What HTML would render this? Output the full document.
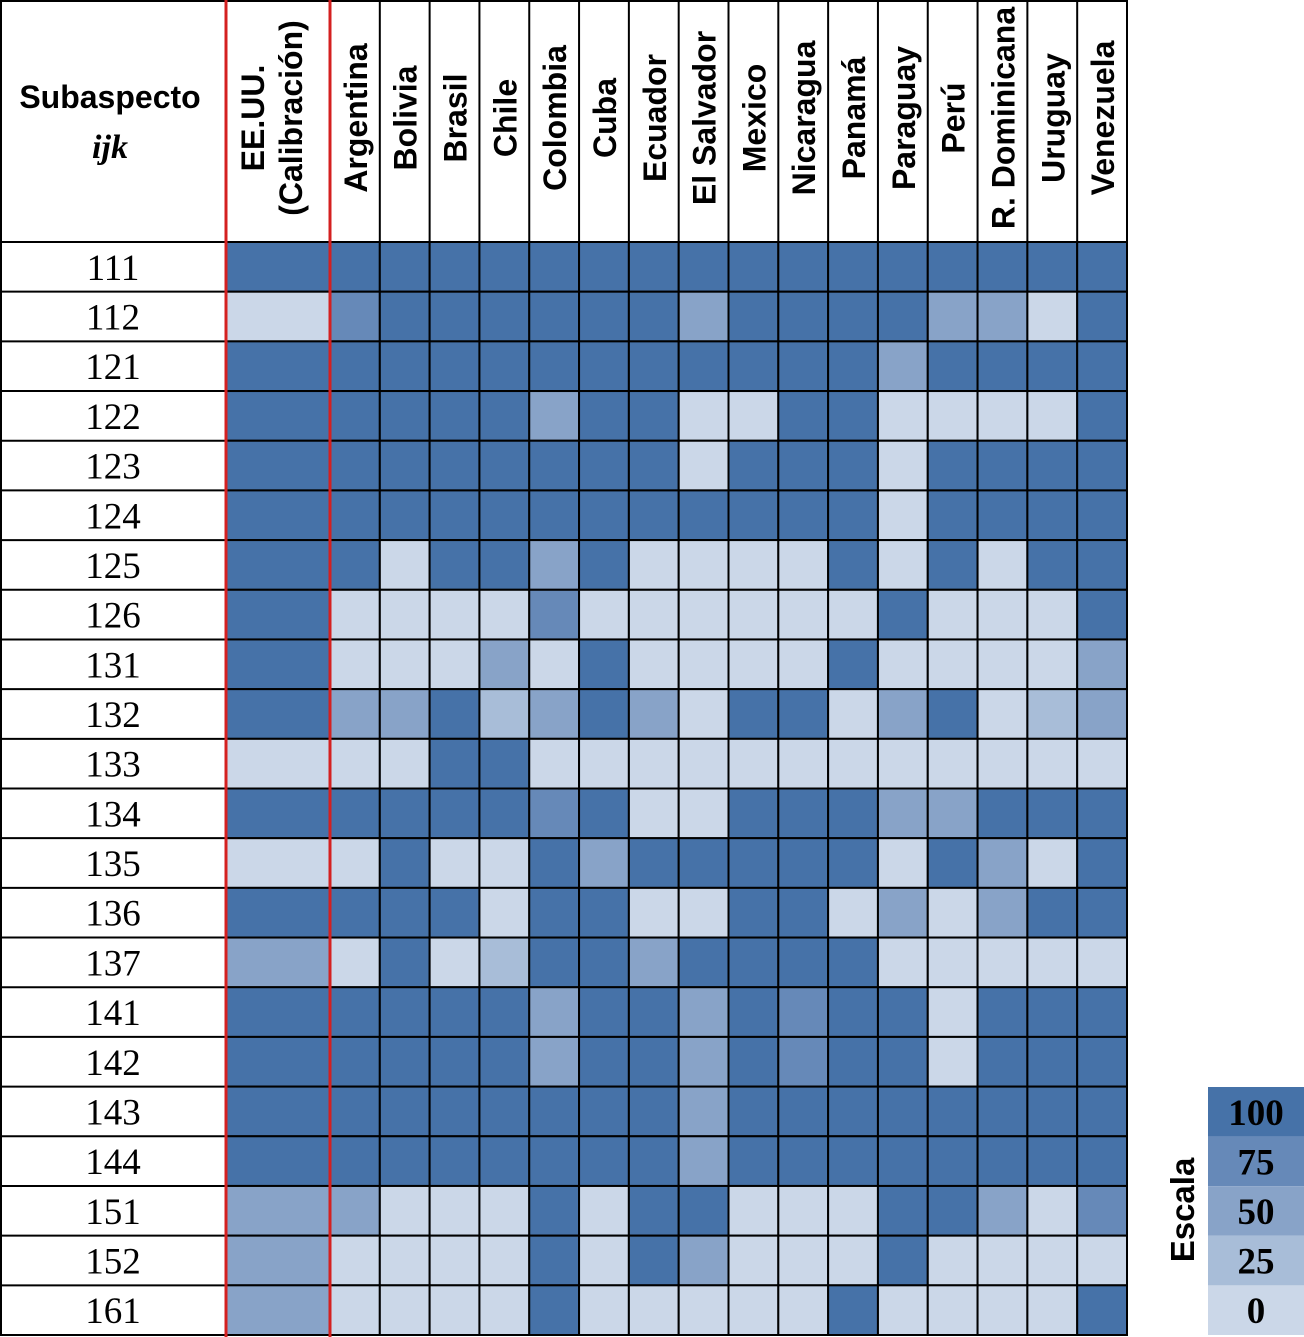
<!DOCTYPE html>
<html><head><meta charset="utf-8">
<style>
html,body{margin:0;padding:0;background:#fff;}
svg{display:block;}
</style></head>
<body>
<svg id="chart" width="1304" height="1337" xmlns="http://www.w3.org/2000/svg"></svg>
<script>
const countries = ["EE.UU.|(Calibración)","Argentina","Bolivia","Brasil","Chile","Colombia","Cuba","Ecuador","El Salvador","Mexico","Nicaragua","Panamá","Paraguay","Perú","R. Dominicana","Uruguay","Venezuela"];
const subaspects = ["111","112","121","122","123","124","125","126","131","132","133","134","135","136","137","141","142","143","144","151","152","161"];
const values = [
[100,100,100,100,100,100,100,100,100,100,100,100,100,100,100,100,100],
[0,75,100,100,100,100,100,100,50,100,100,100,100,50,50,0,100],
[100,100,100,100,100,100,100,100,100,100,100,100,50,100,100,100,100],
[100,100,100,100,100,50,100,100,0,0,100,100,0,0,0,0,100],
[100,100,100,100,100,100,100,100,0,100,100,100,0,100,100,100,100],
[100,100,100,100,100,100,100,100,100,100,100,100,0,100,100,100,100],
[100,100,0,100,100,50,100,0,0,0,0,100,0,100,0,100,100],
[100,0,0,0,0,75,0,0,0,0,0,0,100,0,0,0,100],
[100,0,0,0,50,0,100,0,0,0,0,100,0,0,0,0,50],
[100,50,50,100,25,50,100,50,0,100,100,0,50,100,0,25,50],
[0,0,0,100,100,0,0,0,0,0,0,0,0,0,0,0,0],
[100,100,100,100,100,75,100,0,0,100,100,100,50,50,100,100,100],
[0,0,100,0,0,100,50,100,100,100,100,100,0,100,50,0,100],
[100,100,100,100,0,100,100,0,0,100,100,0,50,0,50,100,100],
[50,0,100,0,25,100,100,50,100,100,100,100,0,0,0,0,0],
[100,100,100,100,100,50,100,100,50,100,75,100,100,0,100,100,100],
[100,100,100,100,100,50,100,100,50,100,75,100,100,0,100,100,100],
[100,100,100,100,100,100,100,100,50,100,100,100,100,100,100,100,100],
[100,100,100,100,100,100,100,100,50,100,100,100,100,100,100,100,100],
[50,50,0,0,0,100,0,100,100,0,0,0,100,100,50,0,75],
[50,0,0,0,0,100,0,100,50,0,0,0,100,0,0,0,0],
[50,0,0,0,0,100,0,0,0,0,0,100,0,0,0,0,100]
];
const scaleLevels = [100,75,50,25,0];

const NS="http://www.w3.org/2000/svg";
const svg=document.getElementById('chart');
function colorFor(v){
  if(v>=100) return "#4672a8";
  if(v>=75) return "#6689b8";
  if(v>=50) return "#88a3c8";
  if(v>=25) return "#a8bdd8";
  return "#cbd7e8";
}
const top0=242, rowH=(1335-242)/subaspects.length;
function yRow(i){return top0+i*rowH;}
function xCol(j){return j===0?226:330+(j-1)*(1127-330)/16;}
function wCol(j){return j===0?104:(1127-330)/16;}
function mk(tag,attrs){const e=document.createElementNS(NS,tag);for(const k in attrs)e.setAttribute(k,attrs[k]);svg.appendChild(e);return e;}

values.forEach((row,i)=>{
  row.forEach((v,j)=>{
    const r=mk('rect',{x:xCol(j),y:yRow(i),width:wCol(j),height:rowH,fill:colorFor(v),stroke:'#000','stroke-width':2});
    
    
  });
  const t=mk('text',{x:113,y:yRow(i)+rowH/2+13,'text-anchor':'middle','font-family':'"Liberation Serif",serif','font-size':37});
  t.textContent=subaspects[i];
  
  
  const l=mk('line',{x1:0,x2:226,y1:yRow(i),y2:yRow(i),stroke:'#000','stroke-width':2});
  
  
});
const hb=mk('rect',{x:1,y:1,width:1126,height:1334,fill:'none',stroke:'#000','stroke-width':2});


for(let j=2;j<=countries.length;j++){
  const x=j<countries.length?xCol(j):1127;
  const l=mk('line',{x1:x,x2:x,y1:0,y2:242,stroke:'#000','stroke-width':2});
  
  
}
countries.forEach((c,j)=>{
  const cx=xCol(j)+wCol(j)/2;
  const parts=c.split('|');
  parts.forEach((p,k)=>{
    const dx=parts.length>1?(k===0?-14:24):12;
    const t=mk('text',{transform:`translate(${cx+dx},118) rotate(-90)`,'text-anchor':'middle','font-family':'"Liberation Sans",sans-serif','font-weight':'bold','font-size':32});
    t.textContent=p;
    
    
  });
});
const h1=mk('text',{x:110,y:108,'text-anchor':'middle','font-family':'"Liberation Sans",sans-serif','font-weight':'bold','font-size':32});
h1.textContent='Subaspecto';


const h2=mk('text',{x:110,y:158,'text-anchor':'middle','font-family':'"Liberation Serif",serif','font-weight':'bold','font-style':'italic','font-size':34});
h2.textContent='ijk';


mk('line',{x1:0,x2:1127,y1:242,y2:242,stroke:'#000','stroke-width':2});
[226,330].forEach(x=>{
  const l=mk('line',{x1:x,x2:x,y1:0,y2:1337,stroke:'#d42020','stroke-width':3});
  
  
});
const lh=(1335-1087)/scaleLevels.length;
scaleLevels.forEach((v,k)=>{
  const r=mk('rect',{x:1208,y:1087+k*lh,width:96,height:lh,fill:colorFor(v)});
  
  
  const t=mk('text',{x:1256,y:1087+k*lh+lh/2+13,'text-anchor':'middle','font-family':'"Liberation Serif",serif','font-weight':'bold','font-size':37});
  t.textContent=v;
  
  
});
const es=mk('text',{transform:'translate(1194,1210) rotate(-90)','text-anchor':'middle','font-family':'"Liberation Sans",sans-serif','font-weight':'bold','font-size':33});
es.textContent='Escala';


</script>
</body></html>
